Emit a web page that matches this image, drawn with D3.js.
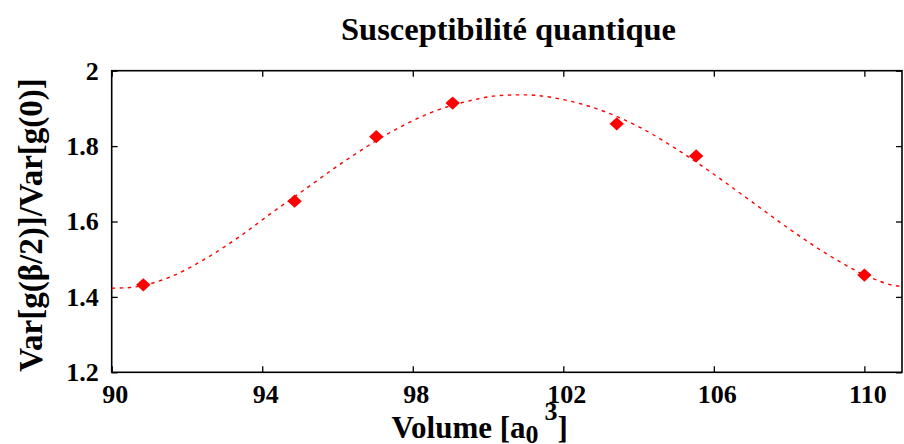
<!DOCTYPE html>
<html>
<head>
<meta charset="utf-8">
<script src="https://cdn.jsdelivr.net/npm/d3@7"></script>
<style>
  html, body { margin: 0; padding: 0; background: #fff; }
  svg { display: block; }
  text { font-family: "Liberation Serif", "Times New Roman", serif; font-weight: bold; fill: #000; }
</style>
</head>
<body>
<svg id="chart" width="904" height="444"></svg>
<script>
// ---- data ----
const volumes = [90.84, 94.86, 97.03, 99.06, 103.42, 105.53, 110.0];
const ratios  = [1.432, 1.654, 1.825, 1.914, 1.859, 1.774, 1.458];

// fitted curve
const fitVolumes = [90.0, 90.5, 91.53, 92.47, 93.37, 94.24, 95.13, 96.19, 97.47, 98.44, 99.68, 100.28, 100.96, 102.06, 102.86, 104.05, 104.98, 105.82, 106.92, 107.98, 109.05, 110.15, 110.81, 111.0];
const fitRatios  = [1.423, 1.425, 1.452, 1.500, 1.558, 1.622, 1.685, 1.760, 1.840, 1.887, 1.924, 1.934, 1.936, 1.922, 1.900, 1.849, 1.794, 1.738, 1.659, 1.582, 1.511, 1.452, 1.430, 1.428];

const xTicks = [90, 94, 98, 102, 106, 110];
const yTicks = [1.2, 1.4, 1.6, 1.8, 2.0];
const yTickLabels = ["1.2", "1.4", "1.6", "1.8", "2"];

const title = "Susceptibilité quantique";
const yLabel = "Var[g(β/2)]/Var[g(0)]";

// ---- layout ----
const svg = d3.select("#chart");
const mLeft = 111.7, mRight = 902, mTop = 70.7, mBottom = 372.3;

const x = d3.scaleLinear().domain([90, 111]).range([mLeft, mRight]);
const y = d3.scaleLinear().domain([1.2, 2.0]).range([mBottom, mTop]);

// axes
const xAxis = d3.axisBottom(x).tickValues(xTicks).tickFormat(d3.format("d")).tickSize(-6).tickPadding(12.5);
const gx = svg.append("g").attr("transform", `translate(0,${mBottom})`).call(xAxis);
gx.select(".domain").remove();
gx.selectAll("text").attr("font-size", 26).attr("dx", 3)
  .style("font-family", '"Liberation Serif", serif').style("font-weight", "bold");
gx.selectAll("line").attr("stroke", "#000").attr("stroke-width", 1.3);

const xAxisTop = d3.axisTop(x).tickValues(xTicks).tickFormat("").tickSize(-6);
const gxt = svg.append("g").attr("transform", `translate(0,${mTop})`).call(xAxisTop);
gxt.select(".domain").remove();
gxt.selectAll("line").attr("stroke", "#000").attr("stroke-width", 1.3);

const yAxis = d3.axisLeft(y).tickValues(yTicks).tickFormat((d, i) => yTickLabels[i]).tickSize(-6).tickPadding(13);
const gy = svg.append("g").attr("transform", `translate(${mLeft},0)`).call(yAxis);
gy.select(".domain").remove();
gy.selectAll("text").attr("font-size", 26)
  .style("font-family", '"Liberation Serif", serif').style("font-weight", "bold");
gy.selectAll("line").attr("stroke", "#000").attr("stroke-width", 1.3);

const yAxisRight = d3.axisRight(y).tickValues(yTicks).tickFormat("").tickSize(-6);
const gyr = svg.append("g").attr("transform", `translate(${mRight},0)`).call(yAxisRight);
gyr.select(".domain").remove();
gyr.selectAll("line").attr("stroke", "#000").attr("stroke-width", 1.3);

// frame
svg.append("rect")
  .attr("x", mLeft).attr("y", mTop)
  .attr("width", mRight - mLeft).attr("height", mBottom - mTop)
  .attr("fill", "none").attr("stroke", "#000").attr("stroke-width", 1.6);

// fitted curve
const fitData = fitVolumes.map((v, i) => [v, fitRatios[i]]);
const line = d3.line().x(d => x(d[0])).y(d => y(d[1])).curve(d3.curveMonotoneX);
svg.append("path")
  .datum(fitData)
  .attr("d", line)
  .attr("fill", "none")
  .attr("stroke", "#ff0000")
  .attr("stroke-width", 1.4)
  .attr("stroke-dasharray", "3.5,4.5");

// points (diamonds)
const hw = 7.2, hh = 6.6;
svg.append("g").selectAll("path")
  .data(volumes.map((vv, i) => [vv, ratios[i]]))
  .join("path")
  .attr("transform", d => `translate(${x(d[0])},${y(d[1])})`)
  .attr("d", `M0,${-hh}L${hw},0L0,${hh}L${-hw},0Z`)
  .attr("fill", "#ff0000");

// title
svg.append("text")
  .attr("x", 508.5).attr("y", 40)
  .attr("text-anchor", "middle")
  .attr("font-size", 32.5)
  .text(title);

// x label with sub/superscript
const xl = svg.append("text")
  .attr("x", 391.5).attr("y", 438)
  .attr("font-size", 31);
xl.append("tspan").text("Volume [a");
xl.append("tspan").attr("font-size", 26).attr("dy", 5).text("0");
xl.append("tspan").attr("font-size", 26).attr("dx", 6).attr("dy", -23).text("3");
xl.append("tspan").attr("dy", 18).text("]");

// y label
svg.append("text")
  .attr("transform", "translate(42,225) rotate(-90)")
  .attr("text-anchor", "middle")
  .attr("font-size", 33)
  .text(yLabel);
</script>
</body>
</html>
